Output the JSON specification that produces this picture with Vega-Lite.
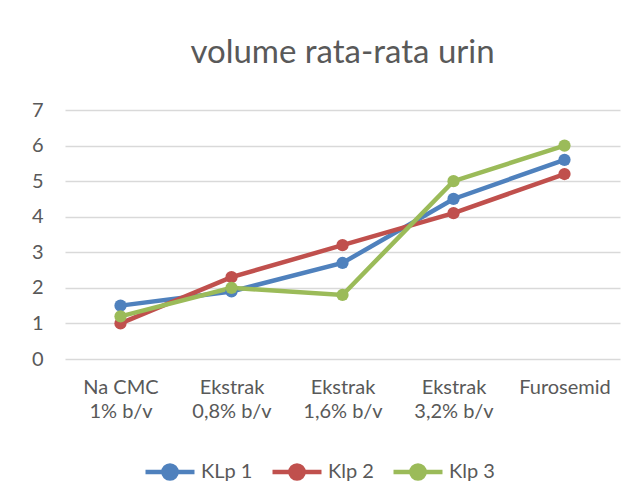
{
  "$schema": "https://vega.github.io/schema/vega-lite/v6.json",
  "width": 555,
  "height": 249,
  "autosize": {"type": "none"},
  "padding": {"left": 65, "top": 110, "right": 18, "bottom": 143},
  "background": "white",
  "config": {
    "font": "Lato",
    "view": {"stroke": null},
    "axis": {"labelFont": "Lato", "labelColor": "#595959", "labelFontSize": 20, "domain": false, "ticks": false}
  },
  "title": {
    "text": "volume rata-rata urin",
    "font": "Lato",
    "fontSize": 33,
    "fontWeight": "normal",
    "color": "#595959",
    "offset": 30
  },
  "data": {
    "values": [
      {"kelompok": "Na CMC\n1% b/v", "klp": "KLp 1", "volume": 1.5},
      {"kelompok": "Ekstrak\n0,8% b/v", "klp": "KLp 1", "volume": 1.9},
      {"kelompok": "Ekstrak\n1,6% b/v", "klp": "KLp 1", "volume": 2.7},
      {"kelompok": "Ekstrak\n3,2% b/v", "klp": "KLp 1", "volume": 4.5},
      {"kelompok": "Furosemid", "klp": "KLp 1", "volume": 5.6},
      {"kelompok": "Na CMC\n1% b/v", "klp": "Klp 2", "volume": 1.0},
      {"kelompok": "Ekstrak\n0,8% b/v", "klp": "Klp 2", "volume": 2.3},
      {"kelompok": "Ekstrak\n1,6% b/v", "klp": "Klp 2", "volume": 3.2},
      {"kelompok": "Ekstrak\n3,2% b/v", "klp": "Klp 2", "volume": 4.1},
      {"kelompok": "Furosemid", "klp": "Klp 2", "volume": 5.2},
      {"kelompok": "Na CMC\n1% b/v", "klp": "Klp 3", "volume": 1.2},
      {"kelompok": "Ekstrak\n0,8% b/v", "klp": "Klp 3", "volume": 2.0},
      {"kelompok": "Ekstrak\n1,6% b/v", "klp": "Klp 3", "volume": 1.8},
      {"kelompok": "Ekstrak\n3,2% b/v", "klp": "Klp 3", "volume": 5.0},
      {"kelompok": "Furosemid", "klp": "Klp 3", "volume": 6.0}
    ]
  },
  "mark": {"type": "line", "strokeWidth": 4.5, "point": {"filled": true, "size": 150, "opacity": 1}},
  "encoding": {
    "x": {
      "field": "kelompok",
      "type": "nominal",
      "sort": null,
      "scale": {"paddingInner": 0, "paddingOuter": 0.5},
      "axis": {
        "title": null,
        "labelAngle": 0,
        "labelPadding": 18,
        "labelLineHeight": 24,
        "labelBaseline": "top",
        "labelExpr": "split(datum.label, '\\n')",
        "grid": false
      }
    },
    "y": {
      "field": "volume",
      "type": "quantitative",
      "scale": {"domain": [0, 7], "nice": false},
      "axis": {
        "title": null,
        "values": [0, 1, 2, 3, 4, 5, 6, 7],
        "grid": true,
        "gridColor": "#D9D9D9",
        "gridWidth": 1.5,
        "labelPadding": 22
      }
    },
    "color": {
      "field": "klp",
      "type": "nominal",
      "scale": {"domain": ["KLp 1", "Klp 2", "Klp 3"], "range": ["#4F81BD", "#C0504D", "#9BBB59"]},
      "legend": {
        "title": null,
        "orient": "none",
        "legendX": 78,
        "legendY": 335,
        "direction": "horizontal",
        "gridAlign": "none",
        "labelFont": "Lato",
        "labelFontSize": 20,
        "labelColor": "#595959",
        "columnPadding": 10,
        "symbolType": "M-1,0H-0.27A0.27,0.27 0 1,1 0.27,0H1M0.27,0A0.27,0.27 0 1,1 -0.27,0",
        "symbolSize": 2400,
        "symbolStrokeWidth": 4.5,
        "labelOffset": 4,
        "encode": {
          "symbols": {
            "update": {
              "fill": {"scale": "color", "field": "value"},
              "stroke": {"scale": "color", "field": "value"},
              "opacity": {"value": 1}
            }
          }
        }
      }
    }
  }
}
